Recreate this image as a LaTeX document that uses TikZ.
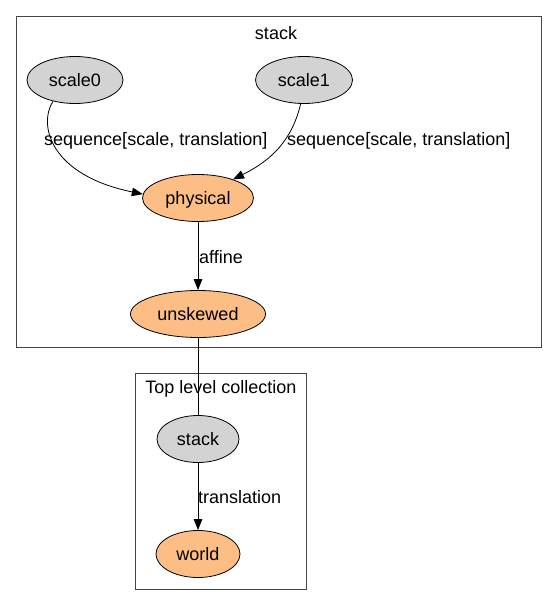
\documentclass[tikz,border=0pt]{standalone}
\usepackage{fontspec}
\setmainfont{Liberation Sans}
\usetikzlibrary{shapes.geometric,arrows.meta}
\definecolor{gfill}{HTML}{D3D3D3}
\definecolor{ofill}{HTML}{FDBE85}
\definecolor{boxc}{HTML}{444444}
\tikzset{
  gnode/.style={ellipse,draw=black,line width=0.8pt,inner sep=0pt,text height=14pt,text depth=1pt,font=\fontsize{18}{20}\selectfont},
  grey/.style={gnode,fill=gfill},
  orng/.style={gnode,fill=ofill},
  edge/.style={line width=0.8pt,-{Triangle[length=11pt,width=8.5pt]}},
  plain/.style={line width=0.8pt},
  lbl/.style={font=\fontsize{18}{20}\selectfont,inner sep=0pt},
  cluster/.style={draw=boxc,line width=1pt}
}
\begin{document}
\begin{tikzpicture}[x=1pt,y=-1pt]
\useasboundingbox (0,0) rectangle (553,605);
\draw[cluster] (16,16) rectangle (541,347);
\draw[cluster] (135,373) rectangle (306,589);
\node[lbl] (t1) at (276,33) {stack};
\node[lbl] (t2) at (221,389) {Top level collection};
\node[grey,minimum width=96pt,minimum height=47pt] (scale0) at (75,80) {scale0};
\node[grey,minimum width=97pt,minimum height=47pt] (scale1) at (304,80) {scale1};
\node[orng,minimum width=111pt,minimum height=47pt] (physical) at (198,198) {physical};
\node[orng,minimum width=135pt,minimum height=47pt] (unskewed) at (198,314) {unskewed};
\node[grey,minimum width=82pt,minimum height=47pt] (stack) at (198,439) {stack};
\node[orng,minimum width=84pt,minimum height=47pt] (world) at (198,554) {world};
\draw[edge] (scale0.224) .. controls (38,125) and (50,175) .. (physical.176);
\draw[edge] (scale1.262) .. controls (292,140) and (272,160) .. (physical.28);
\draw[edge] (physical) -- (unskewed);
\draw[plain] (unskewed) -- (stack);
\draw[edge] (stack) -- (world);
\node[lbl,anchor=west] (l1) at (44,141) {sequence[scale, translation]};
\node[lbl,anchor=west] (l2) at (287,141) {sequence[scale, translation]};
\node[lbl,anchor=west] (l3) at (199,257) {affine};
\node[lbl,anchor=west] (l4) at (198,497) {translation};
\end{tikzpicture}
\end{document}
